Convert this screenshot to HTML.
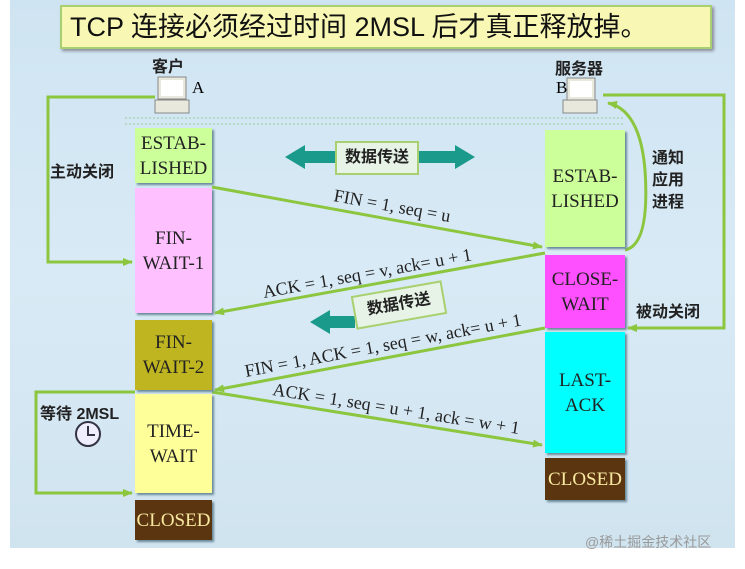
<!DOCTYPE html>
<html><head><meta charset="utf-8"><style>
body{margin:0;width:745px;height:569px;background:#fff;overflow:hidden;font-family:"Liberation Serif","Noto Serif CJK SC",serif}
.bg{position:absolute;left:10px;top:0;width:725px;height:548px;background:linear-gradient(180deg,#cfe4f2,#d8eaf5 50%,#d0e4f0)}
.b{position:absolute;display:flex;align-items:center;justify-content:center;text-align:center;font-size:19px;line-height:25px;color:#222;box-shadow:2px 2px 2px #6a8a9a}
.t{position:absolute;font-family:"Liberation Sans","Noto Sans CJK SC",sans-serif;font-size:16px;color:#222;font-weight:bold}
</style></head><body>
<div class="bg"></div>
<div style="position:absolute;left:60px;top:5px;width:640px;height:40px;background:#f8f8b4;border:2px solid #a8d070;box-shadow:2px 2px 3px #889;font-family:'Liberation Sans','Noto Sans CJK SC',sans-serif;font-size:27px;line-height:40px;padding-left:8px;color:#111">TCP 连接必须经过时间 2MSL 后才真正释放掉。</div>
<div class="t" style="left:152px;top:53px">客户</div>
<div class="t" style="left:555px;top:55px">服务器</div>
<div style="position:absolute;left:192px;top:78px;font-size:17px">A</div>
<div style="position:absolute;left:556px;top:78px;font-size:17px">B</div>
<svg width="745" height="569" style="position:absolute;left:0;top:0">
<defs><marker id="a" markerWidth="10" markerHeight="8" refX="9" refY="4" orient="auto" markerUnits="userSpaceOnUse"><path d="M0,0L10,4L0,8z" fill="#8cc63f"/></marker></defs>
<g fill="#e8e8dc" stroke="#888"><rect x="158" y="77" width="28" height="22"/><rect x="155" y="100" width="34" height="13"/><rect x="567" y="78" width="28" height="22"/><rect x="563" y="100" width="34" height="13"/></g>
<rect x="161" y="80" width="22" height="16" fill="#fff"/><rect x="570" y="81" width="22" height="16" fill="#fff"/>
<line x1="125" y1="118" x2="625" y2="118" stroke="#9c9" stroke-dasharray="2,2"/>
<line x1="125" y1="124" x2="625" y2="124" stroke="#9c9" stroke-dasharray="2,2"/>
<g stroke="#8cc63f" stroke-width="3" fill="none" marker-end="url(#a)">
<polyline points="155,97 48,97 48,262 132,262"/>
<polyline points="603,95 724,95 724,328 628,328"/>
<path d="M625,250 Q650,245 645,170 Q640,110 608,103"/>
<polyline points="135,392 36,392 36,493 132,493"/>
<line x1="212" y1="187" x2="542" y2="247"/>
<line x1="545" y1="253" x2="215" y2="313"/>
<line x1="545" y1="328" x2="215" y2="390"/>
<line x1="212" y1="392" x2="542" y2="445"/>
</g>
<path d="M285,157 L305,145 L305,151 L455,151 L455,145 L475,157 L455,169 L455,163 L305,163 L305,169z" fill="#1a9a8a"/>
<path d="M310,322 L330,310 L330,316 L355,316 L355,328 L330,328 L330,334z" fill="#1a9a8a"/>
<g font-size="18" fill="#222">
<text transform="translate(333,201) rotate(10.3)">FIN = 1, seq = u</text>
<text transform="translate(264,298) rotate(-10.3)">ACK = 1, seq = v, ack= u + 1</text>
<text transform="translate(246,377) rotate(-10.6)">FIN = 1, ACK = 1, seq = w, ack= u + 1</text>
<text transform="translate(272,395) rotate(9)">ACK = 1, seq = u + 1, ack = w + 1</text>
</g>
<circle cx="88" cy="434" r="12" fill="#eef" stroke="#334" stroke-width="2"/>
<path d="M88,426 L88,435 L95,435" stroke="#334" stroke-width="2" fill="none"/>
</svg>
<div class="t" style="left:335px;top:141px;width:80px;height:30px;line-height:30px;background:#e6f3e6;border:2px solid #a8d070;text-align:center">数据传送</div>
<div class="t" style="left:353px;top:288px;width:88px;height:30px;line-height:30px;background:#e6f3e6;border:2px solid #a8d070;text-align:center;transform:rotate(-10deg)">数据传送</div>
<div class="t" style="left:50px;top:158px">主动关闭</div>
<div class="t" style="left:636px;top:298px">被动关闭</div>
<div class="t" style="left:652px;top:148px;width:34px;line-height:22px">通知应用进程</div>
<div class="t" style="left:40px;top:400px">等待 2MSL</div>
<div class="b" style="left:135px;top:128px;width:77px;height:55px;background:#ccff99">ESTAB-<br>LISHED</div>
<div class="b" style="left:135px;top:188px;width:77px;height:125px;background:#ffc0ff">FIN-<br>WAIT-1</div>
<div class="b" style="left:135px;top:320px;width:77px;height:70px;background:#bfb520">FIN-<br>WAIT-2</div>
<div class="b" style="left:135px;top:394px;width:77px;height:99px;background:#ffff99">TIME-<br>WAIT</div>
<div class="b" style="left:135px;top:500px;width:77px;height:40px;background:#5a3510;color:#f8e8a0">CLOSED</div>
<div class="b" style="left:545px;top:130px;width:80px;height:117px;background:#ccff99">ESTAB-<br>LISHED</div>
<div class="b" style="left:545px;top:255px;width:80px;height:73px;background:#ff50ff">CLOSE-<br>WAIT</div>
<div class="b" style="left:545px;top:332px;width:80px;height:121px;background:#00ffff">LAST-<br>ACK</div>
<div class="b" style="left:545px;top:458px;width:80px;height:42px;background:#5a3510;color:#f8e8a0">CLOSED</div>
<div style="position:absolute;left:585px;top:532px;font-family:'Liberation Sans','Noto Sans CJK SC',sans-serif;font-size:14px;color:#999">@稀土掘金技术社区</div>
</body></html>
